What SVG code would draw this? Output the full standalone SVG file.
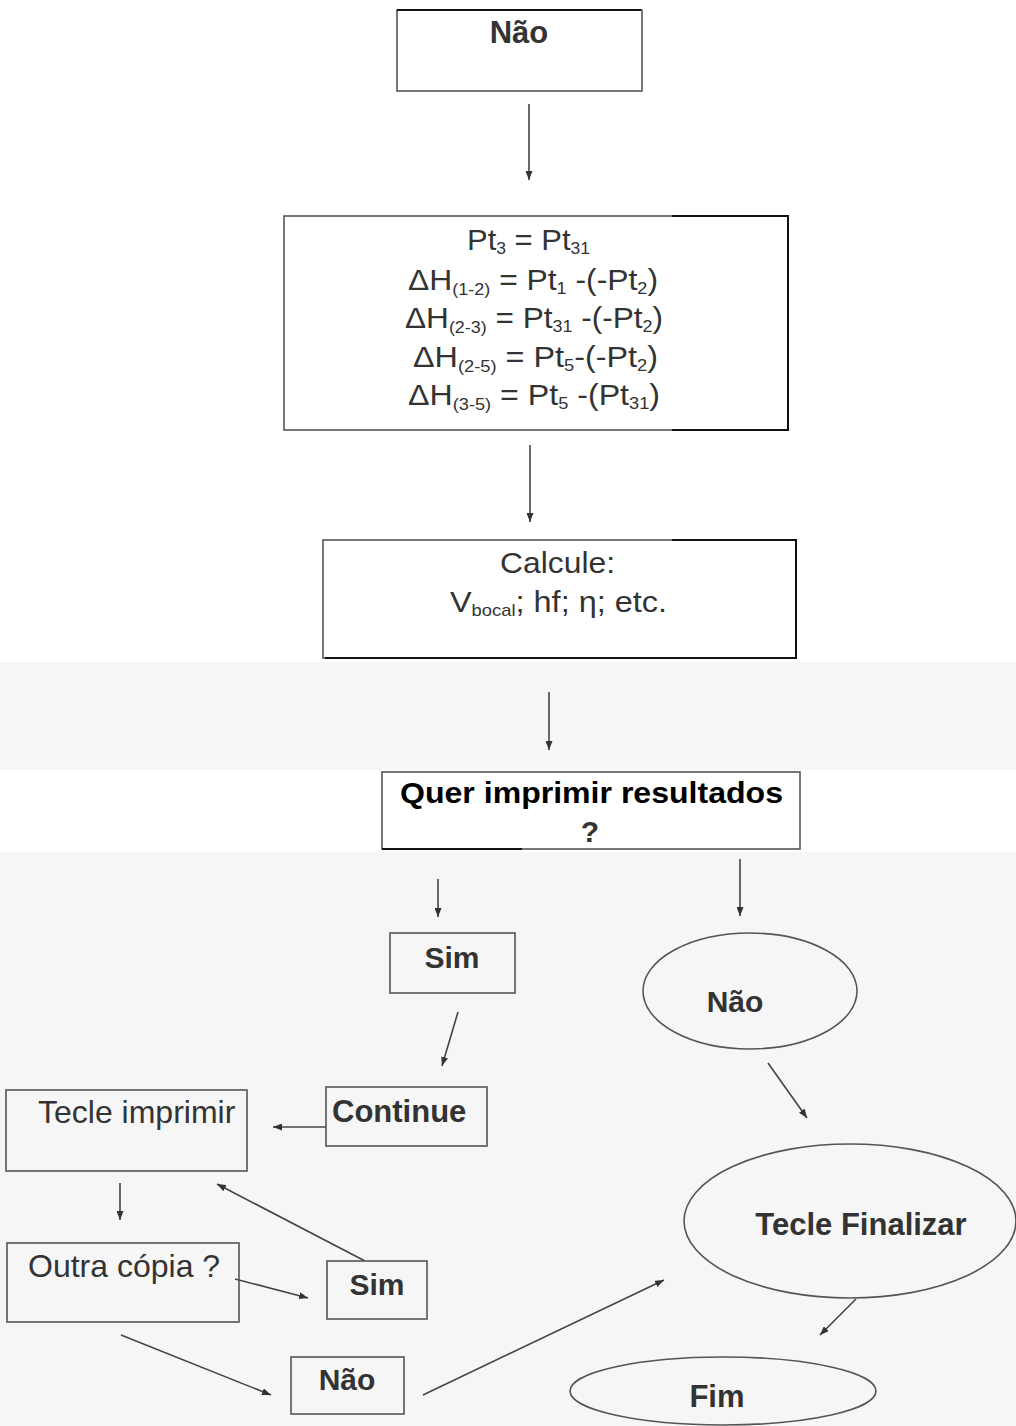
<svg xmlns="http://www.w3.org/2000/svg" width="1016" height="1426" viewBox="0 0 1016 1426">
<defs>
<marker id="ah" markerUnits="userSpaceOnUse" markerWidth="9" markerHeight="7" refX="9" refY="3.5" orient="auto">
<path d="M0,0 L9,3.5 L0,7 z" fill="#333"/>
</marker>
<style>
.box{fill:none;stroke:#555;stroke-width:1.6}
.ov{stroke:#111;stroke-width:2;fill:none}
.t{font-family:"Liberation Sans",Arial,sans-serif;fill:#333}
.b{font-weight:bold}
.r{font-size:30px}
.s{font-size:17px}
.c{text-anchor:middle}
.conn line{stroke:#444;stroke-width:1.6;marker-end:url(#ah)}
</style>
</defs>
<rect x="0" y="0" width="1016" height="1426" fill="#ffffff"/>
<rect x="0" y="662" width="1016" height="108" fill="#f6f6f6"/>
<rect x="0" y="852" width="1016" height="574" fill="#f6f6f6"/>

<g id="connectors" class="conn">
<line x1="529" y1="104" x2="529" y2="180"/>
<line x1="530" y1="445" x2="530" y2="522"/>
<line x1="549" y1="692" x2="549" y2="750"/>
<line x1="438" y1="879" x2="438" y2="917"/>
<line x1="740" y1="859" x2="740" y2="916"/>
<line x1="458" y1="1012" x2="442" y2="1066"/>
<line x1="326" y1="1127" x2="273" y2="1127"/>
<line x1="120" y1="1183" x2="120" y2="1220"/>
<line x1="235" y1="1279" x2="308" y2="1298"/>
<line x1="365" y1="1261" x2="217" y2="1184"/>
<line x1="121" y1="1335" x2="271" y2="1395"/>
<line x1="423" y1="1395" x2="664" y2="1280"/>
<line x1="768" y1="1063" x2="807" y2="1118"/>
<line x1="856" y1="1299" x2="820" y2="1335"/>
</g>

<g id="n-nao-top">
<rect class="box" x="397" y="10" width="245" height="81"/>
<line class="ov" x1="397" y1="10" x2="641" y2="10"/>
<text class="t b c" x="519" y="43" font-size="31">Não</text>
</g>

<g id="n-formulas">
<rect x="672" y="216" width="116" height="214" fill="#ffffff"/>
<rect class="box" x="284" y="216" width="504" height="214"/>
<polyline class="ov" points="672,216 788,216 788,430 672,430"/>
<text class="t r" x="467" y="250" textLength="123" lengthAdjust="spacingAndGlyphs">Pt<tspan class="s" dy="4">3</tspan><tspan dy="-4"> = Pt</tspan><tspan class="s" dy="4">31</tspan></text>
<text class="t r" x="408" y="290" textLength="250" lengthAdjust="spacingAndGlyphs">ΔH<tspan class="s" dy="5">(1-2)</tspan><tspan dy="-5"> = Pt</tspan><tspan class="s" dy="4">1</tspan><tspan dy="-4"> -(-Pt</tspan><tspan class="s" dy="4">2</tspan><tspan dy="-4">)</tspan></text>
<text class="t r" x="405" y="328" textLength="258" lengthAdjust="spacingAndGlyphs">ΔH<tspan class="s" dy="5">(2-3)</tspan><tspan dy="-5"> = Pt</tspan><tspan class="s" dy="4">31</tspan><tspan dy="-4"> -(-Pt</tspan><tspan class="s" dy="4">2</tspan><tspan dy="-4">)</tspan></text>
<text class="t r" x="413" y="367" textLength="245" lengthAdjust="spacingAndGlyphs">ΔH<tspan class="s" dy="5">(2-5)</tspan><tspan dy="-5"> = Pt</tspan><tspan class="s" dy="4">5</tspan><tspan dy="-4">-(-Pt</tspan><tspan class="s" dy="4">2</tspan><tspan dy="-4">)</tspan></text>
<text class="t r" x="408" y="405" textLength="252" lengthAdjust="spacingAndGlyphs">ΔH<tspan class="s" dy="5">(3-5)</tspan><tspan dy="-5"> = Pt</tspan><tspan class="s" dy="4">5</tspan><tspan dy="-4"> -(Pt</tspan><tspan class="s" dy="4">31</tspan><tspan dy="-4">)</tspan></text>
</g>

<g id="n-calcule">
<rect x="672" y="540" width="124" height="118" fill="#ffffff"/>
<rect class="box" x="323" y="540" width="473" height="118"/>
<polyline class="ov" points="672,540 796,540 796,658 325,658"/>
<text class="t r" x="500" y="573" textLength="115" lengthAdjust="spacingAndGlyphs">Calcule:</text>
<text class="t r" x="450" y="612" textLength="217" lengthAdjust="spacingAndGlyphs">V<tspan class="s" dy="4">bocal</tspan><tspan dy="-4">; hf; η; etc.</tspan></text>
</g>

<g id="n-quer">
<rect x="382" y="772" width="418" height="77" fill="#ffffff"/>
<rect class="box" x="382" y="772" width="418" height="77"/>
<line class="ov" x1="382" y1="849" x2="522" y2="849"/>
<text class="t b" x="400" y="803" font-size="30" style="fill:#000" textLength="383" lengthAdjust="spacingAndGlyphs">Quer imprimir resultados</text>
<text class="t b c" x="590" y="842" font-size="30">?</text>
</g>

<g id="n-sim1">
<rect class="box" x="390" y="933" width="125" height="60"/>
<text class="t b c" x="452" y="968" font-size="30">Sim</text>
</g>

<g id="n-nao-ellipse">
<ellipse class="box" cx="750" cy="991" rx="107" ry="58"/>
<text class="t b c" x="735" y="1012" font-size="30">Não</text>
</g>

<g id="n-continue">
<rect class="box" x="326" y="1087" width="161" height="59"/>
<text class="t b" x="332" y="1122" font-size="31">Continue</text>
</g>

<g id="n-tecle-imprimir">
<rect class="box" x="6" y="1090" width="241" height="81"/>
<text class="t" x="38" y="1123" font-size="32">Tecle imprimir</text>
</g>

<g id="n-outra-copia">
<rect class="box" x="7" y="1243" width="232" height="79"/>
<text class="t" x="28" y="1277" font-size="32">Outra cópia ?</text>
</g>

<g id="n-sim2">
<rect class="box" x="327" y="1261" width="100" height="58"/>
<text class="t b c" x="377" y="1295" font-size="30">Sim</text>
</g>

<g id="n-nao2">
<rect class="box" x="291" y="1357" width="113" height="57"/>
<text class="t b c" x="347" y="1390" font-size="30">Não</text>
</g>

<g id="n-tecle-finalizar">
<ellipse class="box" cx="850" cy="1221" rx="166" ry="77"/>
<text class="t b c" x="861" y="1235" font-size="31">Tecle Finalizar</text>
</g>

<g id="n-fim">
<ellipse class="box" cx="723" cy="1391" rx="153" ry="34"/>
<text class="t b c" x="717" y="1407" font-size="31">Fim</text>
</g>
</svg>
